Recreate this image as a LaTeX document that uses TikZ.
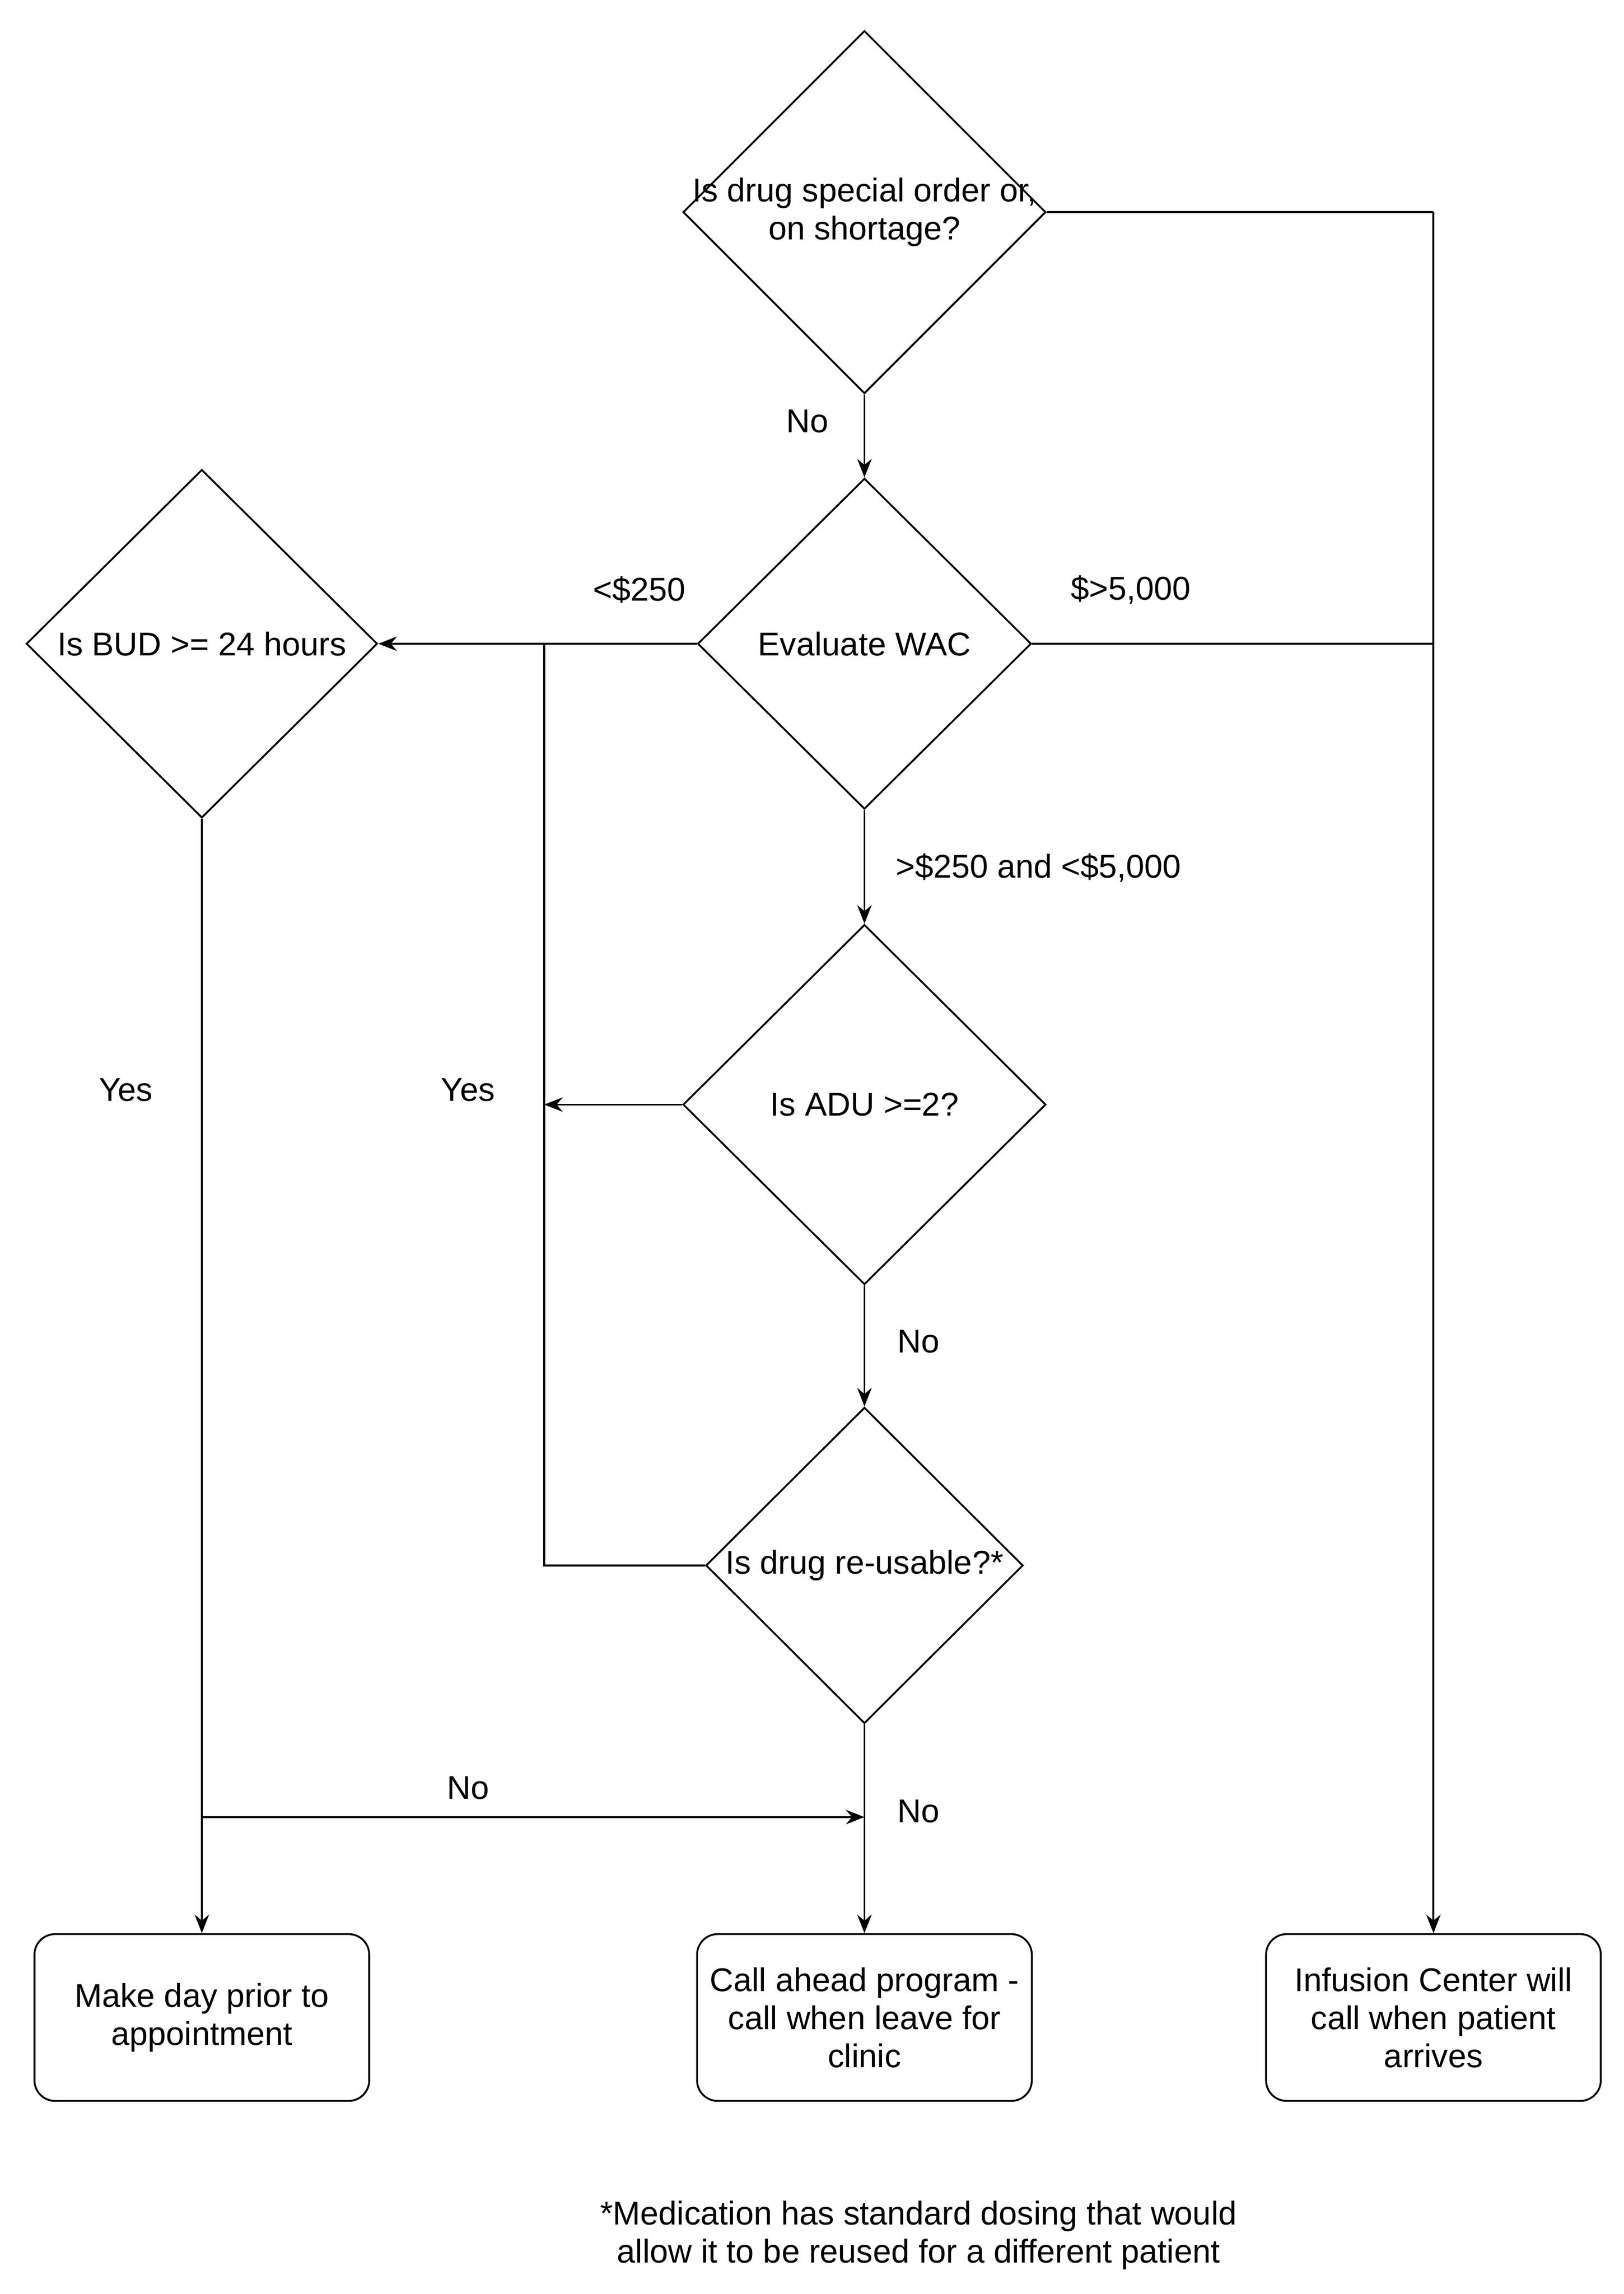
\documentclass[tikz,border=0pt]{standalone}
\usepackage{fontspec}
\setmainfont{Liberation Sans}
\usetikzlibrary{shapes.geometric,arrows.meta}
\begin{document}
\begin{tikzpicture}[x=0.025cm,y=-0.025cm,
  every node/.style={font=\fontsize{16}{18.5}\selectfont},
  dia/.style={draw,diamond,inner sep=0pt,line width=0.9pt},
  box/.style={draw,rounded corners=10pt,minimum width=5.72cm,minimum height=2.85cm,align=center,line width=0.9pt},
  txt/.style={align=center,inner sep=1pt},
  line/.style={line width=0.9pt},
  arr/.style={line width=0.9pt,-{Stealth[length=9pt,width=7pt]}}]
\useasboundingbox (0,0) rectangle (1110,1568);
\node[dia,minimum width=6.2cm,minimum height=6.2cm] (d1) at (591,145) {};
\node[txt] (t1) at (591,145) {Is drug special order or,\\on shortage?};
\node[dia,minimum width=5.7cm,minimum height=5.65cm] (d2) at (591,440) {};
\node[txt] at (591,440) {Evaluate WAC};
\node[dia,minimum width=6cm,minimum height=5.95cm] (bud) at (138,440) {};
\node[txt] at (138,440) {Is BUD >= 24 hours};
\node[dia,minimum width=6.2cm,minimum height=6.15cm] (adu) at (591,755) {};
\node[txt] at (591,755) {Is ADU >=2?};
\node[dia,minimum width=5.42cm,minimum height=5.4cm] (reu) at (591,1070) {};
\node[txt] at (591,1070) {Is drug re-usable?*};
\node[box] (b1) at (138,1379) {Make day prior to\\appointment};
\node[box] (b2) at (591,1379) {Call ahead program -\\call when leave for\\clinic};
\node[box] (b3) at (980,1379) {Infusion Center will\\call when patient\\arrives};
\node[txt] (fn) at (628,1528) {*Medication has standard dosing that would\\allow it to be reused for a different patient};
\coordinate (c1) at (980,145);
\coordinate (c2) at (980,440);
\coordinate (j1) at (372,440);
\coordinate (j2) at (372,755);
\coordinate (j3) at (372,1070);
\coordinate (n1) at (138,1242);
\coordinate (n2) at (591,1242);
\draw[line] (d1.east) -- (c1);
\draw[arr] (c1) -- (b3.north);
\draw[line] (d2.east) -- (c2);
\draw[arr] (d1.south) -- (d2.north);
\draw[arr] (d2.west) -- (bud.east);
\draw[arr] (d2.south) -- (adu.north);
\draw[arr] (adu.west) -- (j2);
\draw[line] (reu.west) -- (j3) -- (j1);
\draw[arr] (adu.south) -- (reu.south |- reu.north);
\draw[arr] (reu.south) -- (b2.north);
\draw[arr] (bud.south) -- (b1.north);
\draw[arr] (n1) -- (n2);
\node[txt] at (552,288) {No};
\node[txt] at (773,403) {\$>5,000};
\node[txt] at (437,403) {<\$250};
\node[txt] at (710,593) {>\$250 and <\$5,000};
\node[txt] at (320,745) {Yes};
\node[txt] at (86,745) {Yes};
\node[txt] at (628,917) {No};
\node[txt] at (628,1238) {No};
\node[txt] at (320,1222) {No};
\end{tikzpicture}
\end{document}
